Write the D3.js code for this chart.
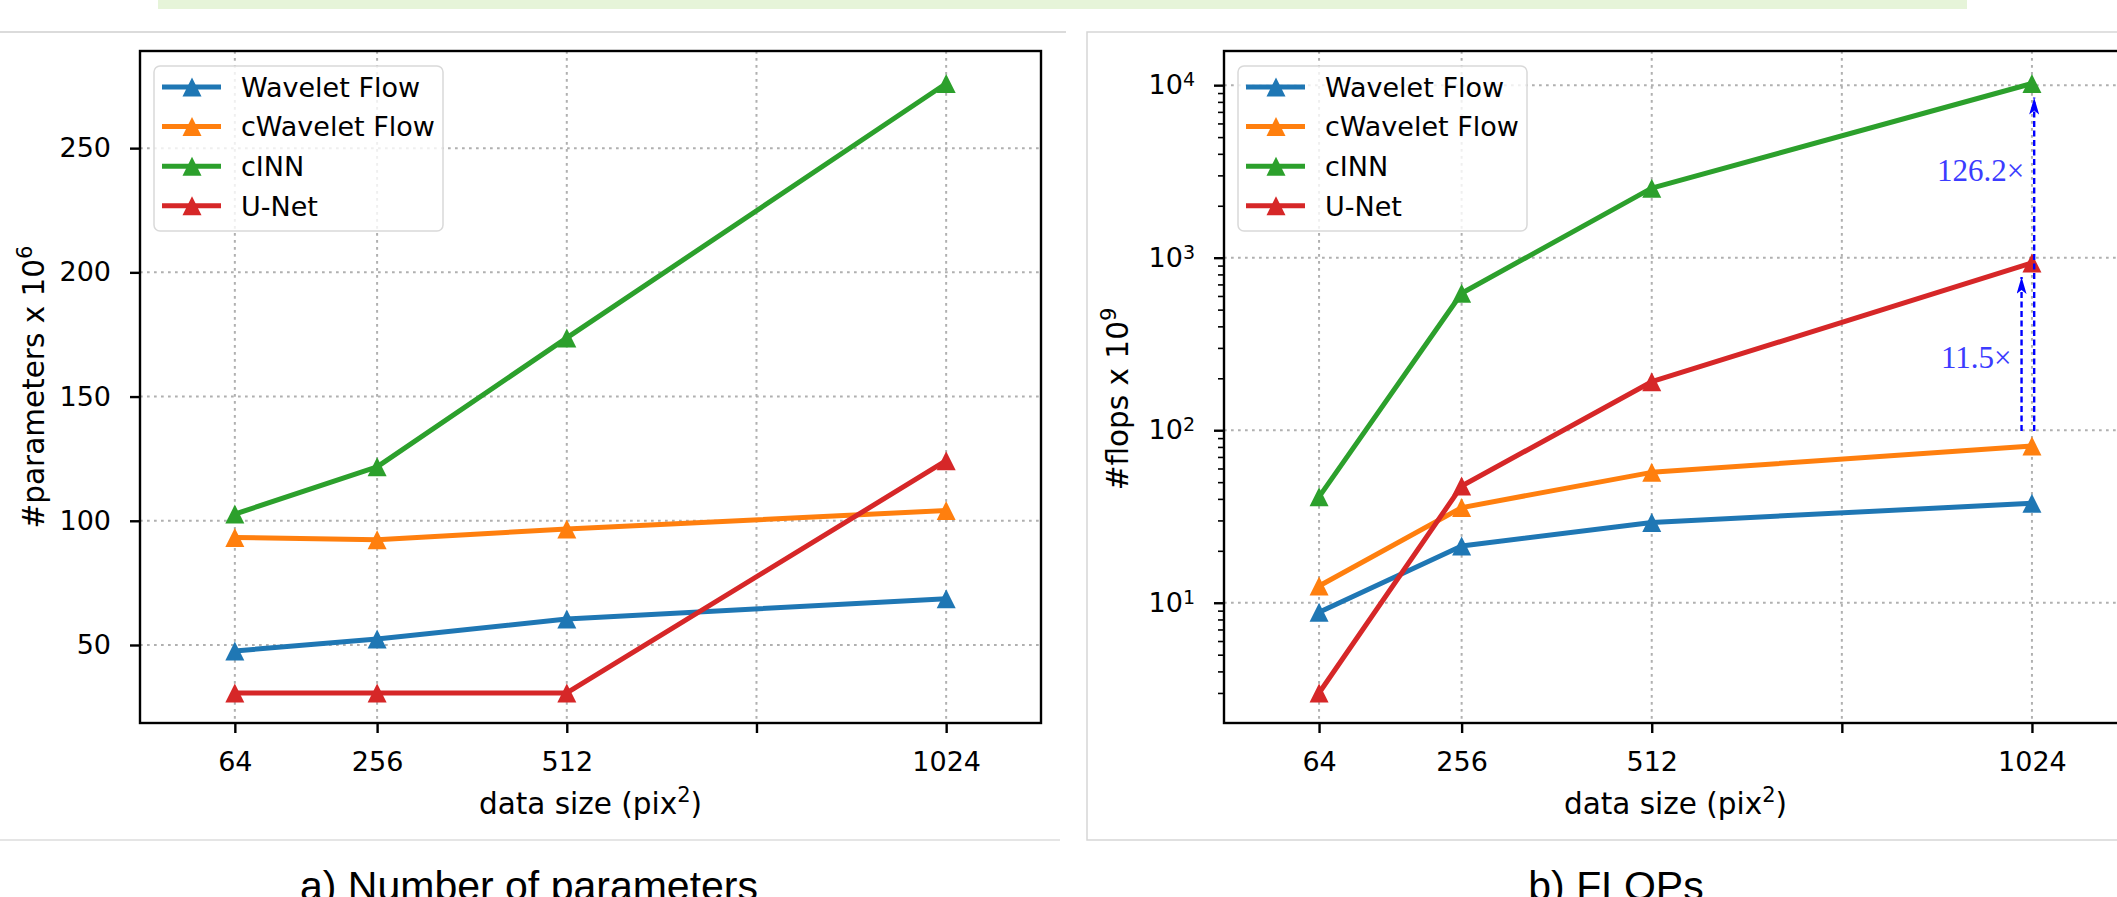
<!DOCTYPE html>
<html>
<head>
<meta charset="utf-8">
<script src="https://cdn.jsdelivr.net/npm/d3@7"></script>
<style>
  body { margin: 0; background: #fff; }
  svg { display: block; }
</style>
</head>
<body>
<div id="chart"></div>
<script>
// Data
const sizes = [64, 256, 512, 1024];
const seriesNames = ["Wavelet Flow", "cWavelet Flow", "cINN", "U-Net"];
const seriesColors = ["#1f77b4", "#ff7f0e", "#2ca02c", "#d62728"];

// a) number of parameters (x 10^6)
const paramsWavelet = [47.6, 52.4, 60.5, 68.6];
const paramsCWavelet = [93.3, 92.4, 96.7, 104.1];
const paramsCINN = [102.7, 121.7, 173.6, 276.0];
const paramsUNet = [30.7, 30.7, 30.7, 124.2];

// b) FLOPs (x 10^9)
const flopsWavelet = [8.8, 21.3, 29.2, 37.7];
const flopsCWavelet = [12.5, 35.6, 57.0, 81.0];
const flopsCINN = [41.1, 622, 2530, 10220];
const flopsUNet = [3.0, 47.5, 191, 932];

// ticks
const xTicks = [64, 256, 512, 768, 1024];
const xTickLabels = ["64", "256", "512", "", "1024"];
const paramTicks = [50, 100, 150, 200, 250];
const flopTicks = [10, 100, 1000, 10000];

// speed-up annotations (relative to cWavelet Flow at 1024)
const speedupLabels = ["11.5×", "126.2×"];
const speedupTargets = [932, 10220];
const speedupTextY = [266, 3220];

const W = 2117, H = 897;
const FONT = "'DejaVu Sans', sans-serif";
const GRID = "#b0b0b0";

const svg = d3.select("#chart")
    .append("svg")
    .attr("width", W)
    .attr("height", H);

svg.append("rect").attr("width", W).attr("height", H).attr("fill", "#fff");

// page decorations around the figure
svg.append("rect")
    .attr("x", 158).attr("y", 0)
    .attr("width", 1809).attr("height", 9)
    .attr("fill", "#e6f4d9");
svg.append("line")
    .attr("x1", 0).attr("x2", 1066).attr("y1", 32).attr("y2", 32)
    .attr("stroke", "#cfcfcf").attr("stroke-width", 1.5);
svg.append("line")
    .attr("x1", 0).attr("x2", 1060).attr("y1", 840).attr("y2", 840)
    .attr("stroke", "#dcdcdc").attr("stroke-width", 1.5);
svg.append("rect")
    .attr("x", 1087).attr("y", 32)
    .attr("width", 1060).attr("height", 808)
    .attr("fill", "none")
    .attr("stroke", "#d6d6d6").attr("stroke-width", 1.5);

// Scales
const xDomain = [-64, 1152];
const xLeft = d3.scaleLinear().domain(xDomain).range([140, 1041]);
const xRight = d3.scaleLinear().domain(xDomain).range([1224, 2127]);
const yParams = d3.scaleLinear().domain([18.6, 289.1]).range([723, 51]);
const yFlops = d3.scaleLog().domain([Math.pow(10, 0.303), Math.pow(10, 4.198)]).range([723, 51]);

const triangle = "M0,-9.5L9.5,9.5L-9.5,9.5Z";

function drawPanel({ x, y, series, yTicks, yFormat, minor, ylabel, ylabelSup, ylabelX, ylabelShift }) {
    const [x0, x1] = x.range();
    const [y1, y0] = y.range();
    const g = svg.append("g");

    // gridlines
    g.append("g").selectAll("line")
        .data(xTicks).enter().append("line")
        .attr("x1", d => x(d)).attr("x2", d => x(d))
        .attr("y1", y0).attr("y2", y1)
        .attr("stroke", GRID).attr("stroke-width", 2)
        .attr("stroke-dasharray", "2.7,4.3");
    g.append("g").selectAll("line")
        .data(yTicks).enter().append("line")
        .attr("x1", x0).attr("x2", x1)
        .attr("y1", d => y(d)).attr("y2", d => y(d))
        .attr("stroke", GRID).attr("stroke-width", 2)
        .attr("stroke-dasharray", "2.7,4.3");

    // series
    const line = d3.line()
        .x((v, i) => x(sizes[i]))
        .y(v => y(v));
    series.forEach((s, k) => {
        const sg = g.append("g");
        sg.append("path")
            .attr("d", line(s.values))
            .attr("fill", "none")
            .attr("stroke", seriesColors[k])
            .attr("stroke-width", 5)
            .attr("stroke-linejoin", "round");
        sg.selectAll("path.marker")
            .data(s.values).enter().append("path")
            .attr("class", "marker")
            .attr("d", triangle)
            .attr("transform", (v, i) => `translate(${x(sizes[i])},${y(v)})`)
            .attr("fill", seriesColors[k]);
    });

    // axes
    const xAxis = g.append("g")
        .attr("transform", `translate(0,${y1})`)
        .call(d3.axisBottom(x)
            .tickValues(xTicks)
            .tickFormat((d, i) => xTickLabels[i])
            .tickSize(10)
            .tickPadding(19)
            .tickSizeOuter(0));
    const yAxis = g.append("g")
        .attr("transform", `translate(${x0},0)`)
        .call(d3.axisLeft(y)
            .tickValues(yTicks)
            .tickFormat(yFormat)
            .tickSize(10)
            .tickPadding(19)
            .tickSizeOuter(0));
    if (minor) {
        g.append("g")
            .attr("transform", `translate(${x0},0)`)
            .call(d3.axisLeft(y).tickValues(minor).tickFormat("").tickSize(6).tickSizeOuter(0))
            .call(a => a.select(".domain").remove())
            .selectAll("line").attr("stroke", "#000").attr("stroke-width", 1.6);
    }
    [xAxis, yAxis].forEach(a => {
        a.select(".domain").remove();
        a.selectAll("line").attr("stroke", "#000").attr("stroke-width", 2.4);
        a.selectAll("text")
            .attr("fill", "#000")
            .style("font-family", FONT)
            .style("font-size", "27px");
    });
    if (yFormat === null) {
        yAxis.selectAll(".tick text").each(function (d) {
            const t = d3.select(this).text("10");
            t.append("tspan")
                .attr("dy", "-0.42em")
                .style("font-size", "19px")
                .text(Math.round(Math.log10(d)));
        });
    }

    // frame
    g.append("rect")
        .attr("x", x0).attr("y", y0)
        .attr("width", x1 - x0).attr("height", y1 - y0)
        .attr("fill", "none")
        .attr("stroke", "#000").attr("stroke-width", 2.4);

    // axis labels
    const xl = g.append("text")
        .attr("x", (x0 + x1) / 2).attr("y", 814)
        .attr("text-anchor", "middle")
        .style("font-family", FONT).style("font-size", "29.5px")
        .text("data size (pix");
    xl.append("tspan").attr("dy", -12).style("font-size", "21px").text("2");
    xl.append("tspan").attr("dy", 12).text(")");

    const yl = g.append("text")
        .attr("transform", `translate(${ylabelX},${(y0 + y1) / 2 + ylabelShift}) rotate(-90)`)
        .attr("text-anchor", "middle")
        .style("font-family", FONT).style("font-size", "29.5px")
        .text(ylabel);
    yl.append("tspan").attr("dy", -12).style("font-size", "21px").text(ylabelSup);

    // legend
    const lx = x0 + 14, ly = y0 + 15;
    const lg = g.append("g").attr("transform", `translate(${lx},${ly})`);
    lg.append("rect")
        .attr("width", 289).attr("height", 165)
        .attr("rx", 6)
        .attr("fill", "#fff").attr("fill-opacity", 0.8)
        .attr("stroke", "#d9d9d9").attr("stroke-width", 1.5);
    const items = lg.selectAll(".item")
        .data(seriesNames).enter().append("g")
        .attr("class", "item")
        .attr("transform", (d, i) => `translate(0,${21 + i * 39.6})`);
    items.append("line")
        .attr("x1", 8).attr("x2", 67)
        .attr("stroke", (d, i) => seriesColors[i])
        .attr("stroke-width", 5);
    items.append("path")
        .attr("d", triangle)
        .attr("transform", "translate(38,0)")
        .attr("fill", (d, i) => seriesColors[i]);
    items.append("text")
        .attr("x", 87).attr("dy", "0.36em")
        .style("font-family", FONT).style("font-size", "27px")
        .text(d => d);
    return g;
}

// a) Number of parameters
drawPanel({
    x: xLeft, y: yParams,
    series: seriesNames.map((name, i) => ({ name, values: [paramsWavelet, paramsCWavelet, paramsCINN, paramsUNet][i] })),
    yTicks: paramTicks,
    yFormat: d => d,
    minor: null,
    ylabel: "#parameters x 10",
    ylabelSup: "6",
    ylabelX: 44,
    ylabelShift: 0
});

// b) FLOPs (log scale)
const flopMinor = [];
[1, 10, 100, 1000].forEach(base => {
    for (let m = 2; m <= 9; m++) {
        const v = base * m;
        if (v >= yFlops.domain()[0] && v <= yFlops.domain()[1]) flopMinor.push(v);
    }
});
const right = drawPanel({
    x: xRight, y: yFlops,
    series: seriesNames.map((name, i) => ({ name, values: [flopsWavelet, flopsCWavelet, flopsCINN, flopsUNet][i] })),
    yTicks: flopTicks,
    yFormat: null,
    minor: flopMinor,
    ylabel: "#flops x 10",
    ylabelSup: "9",
    ylabelX: 1128,
    ylabelShift: 12
});

// speed-up arrows
const defs = svg.append("defs");
defs.append("marker")
    .attr("id", "head")
    .attr("markerUnits", "userSpaceOnUse")
    .attr("viewBox", "0 0 17 10")
    .attr("markerWidth", 17).attr("markerHeight", 10)
    .attr("refX", 17).attr("refY", 5)
    .attr("orient", "auto")
    .append("path")
    .attr("d", "M0,0L17,5L0,10L4,5Z")
    .attr("fill", "#0000ff");

const arrowX = [1010, 1027];
const base = flopsCWavelet[3];
speedupLabels.forEach((label, i) => {
    const ax = xRight(arrowX[i]);
    right.append("line")
        .attr("x1", ax).attr("x2", ax)
        .attr("y1", yFlops(base) - 15)
        .attr("y2", yFlops(speedupTargets[i]) + 14)
        .attr("stroke", "#0000ff").attr("stroke-width", 2.4)
        .attr("stroke-dasharray", "6,3.5")
        .attr("marker-end", "url(#head)");
    right.append("text")
        .attr("x", ax - 10)
        .attr("y", yFlops(speedupTextY[i]))
        .attr("dy", "0.35em")
        .attr("text-anchor", "end")
        .attr("fill", "#3c3cff")
        .style("font-family", "'Liberation Serif', serif")
        .style("font-size", "31px")
        .text(label);
});

// captions
svg.append("text")
    .attr("x", 529).attr("y", 900)
    .attr("text-anchor", "middle")
    .style("font-family", "'Liberation Sans', Arial, sans-serif")
    .style("font-size", "41px")
    .text("a) Number of parameters");
svg.append("text")
    .attr("x", 1616).attr("y", 900)
    .attr("text-anchor", "middle")
    .style("font-family", "'Liberation Sans', Arial, sans-serif")
    .style("font-size", "41px")
    .text("b) FLOPs");
</script>
</body>
</html>
